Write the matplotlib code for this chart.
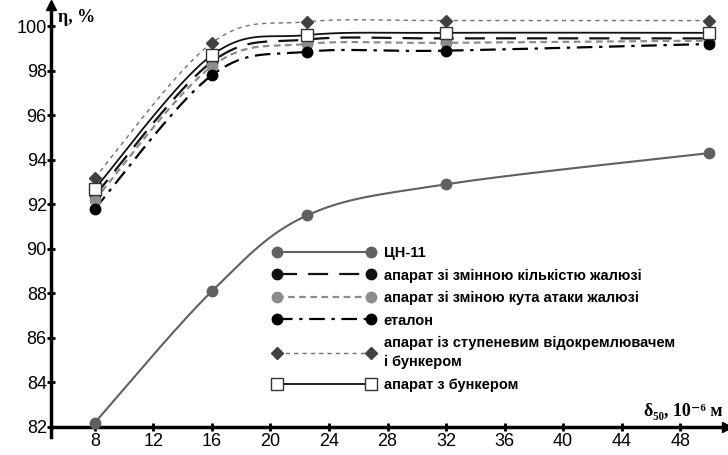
import matplotlib
matplotlib.use("Agg")
import matplotlib.pyplot as plt
import numpy as np

# particle size, 10^-6 m
x_vals = [8, 16, 22.5, 32, 50]

# efficiency, %
cn11 = [82.2, 88.1, 91.5, 92.9, 94.3]
var_count = [92.4, 98.4, 99.4, 99.45, 99.45]
var_angle = [92.2, 98.2, 99.2, 99.25, 99.35]
etalon = [91.8, 97.8, 98.85, 98.9, 99.2]
stepped = [93.2, 99.25, 100.2, 100.25, 100.25]
bunker = [92.7, 98.7, 99.6, 99.7, 99.7]

labels = [
    "ЦН-11",
    "апарат зі змінною кількістю жалюзі",
    "апарат зі зміною кута атаки жалюзі",
    "еталон",
    "апарат із ступеневим відокремлювачем\nі бункером",
    "апарат з бункером",
]

x_ticks = list(range(8, 49, 4))
y_ticks = list(range(82, 101, 2))


def smooth(x, y, n=40):
    # excel-like smoothed line (catmull-rom bezier)
    p = np.column_stack([x, y]).astype(float)
    out = []
    t = np.linspace(0, 1, n)[:, None]
    for i in range(len(p) - 1):
        p0 = p[max(i - 1, 0)]
        p1 = p[i]
        p2 = p[i + 1]
        p3 = p[min(i + 2, len(p) - 1)]
        c1 = p1 + (p2 - p0) / 6
        c2 = p2 - (p3 - p1) / 6
        seg = ((1 - t) ** 3) * p1 + 3 * ((1 - t) ** 2) * t * c1 + 3 * (1 - t) * t ** 2 * c2 + t ** 3 * p2
        out.append(seg)
    s = np.vstack(out)
    return s[:, 0], s[:, 1]


styles = [
    dict(color="#606060", ls="-", lw=1.5, marker="o", ms=7.5, mfc="#606060", mec="#606060"),
    dict(color="#111111", ls=(0, (9, 5)), lw=1.6, marker="o", ms=7.5, mfc="#111111", mec="#111111"),
    dict(color="#8c8c8c", ls=(0, (3, 2)), lw=1.6, marker="o", ms=7.5, mfc="#8c8c8c", mec="#8c8c8c"),
    dict(color="#000000", ls=(0, (7, 3, 1.5, 3)), lw=1.6, marker="o", ms=7.5, mfc="#000000", mec="#000000"),
    dict(color="#707070", ls=(0, (3, 3)), lw=1.0, marker="D", ms=6.5, mfc="#404040", mec="#404040"),
    dict(color="#111111", ls="-", lw=1.3, marker="s", ms=8, mfc="white", mec="#333333"),
]
series = [cn11, var_count, var_angle, etalon, stepped, bunker]

fig = plt.figure(figsize=(7.28, 4.55), dpi=100)
ax = fig.add_axes([51 / 728, 18 / 455, 676 / 728, 432 / 455])

handles = []
for vals, st, lab in zip(series, styles, labels):
    sx, sy = smooth(x_vals, vals)
    ax.plot(sx, sy, color=st["color"], ls=st["ls"], lw=st["lw"], zorder=2)
    ax.plot(x_vals, vals, ls="none", marker=st["marker"], ms=st["ms"],
            mfc=st["mfc"], mec=st["mec"], zorder=3)
    h, = ax.plot([], [], color=st["color"], ls=st["ls"], lw=st["lw"],
                 marker=st["marker"], ms=st["ms"], mfc=st["mfc"], mec=st["mec"])
    handles.append(h)

ax.set_xlim(5, 51.2)
ax.set_ylim(81.55, 100.95)
ax.spines["top"].set_visible(False)
ax.spines["right"].set_visible(False)
ax.spines["bottom"].set_position(("data", 82))
ax.spines["left"].set_linewidth(2.5)
ax.spines["bottom"].set_linewidth(2.5)
ax.set_xticks(x_ticks)
ax.set_yticks(y_ticks)
ax.tick_params(direction="inout", length=6, width=2, labelsize=13)
ax.tick_params(axis="y", pad=0)
ax.tick_params(axis="x", pad=1)
for lbl in ax.get_xticklabels() + ax.get_yticklabels():
    lbl.set_family("Liberation Sans")

# axis arrows
ax.plot(1, 82, ">k", ms=7, transform=ax.get_yaxis_transform(), clip_on=False)
ax.plot(5, 1, "^k", ms=7, transform=ax.get_xaxis_transform(), clip_on=False)

fig.text(58 / 728, 1 - 18 / 455, "η, %", fontsize=13, fontweight="bold",
         family=["Liberation Serif", "DejaVu Serif"], va="center", ha="left")
fig.text(722 / 728, 1 - 412 / 455, "δ₅₀, 10⁻⁶ м", fontsize=13, fontweight="bold",
         family=["Liberation Serif", "DejaVu Serif"], va="center", ha="right")

leg = ax.legend(handles, labels, loc="upper left",
                bbox_to_anchor=(273 / 728, 1 - 246 / 455), bbox_transform=fig.transFigure,
                frameon=False, numpoints=2, handlelength=7.0, handletextpad=0.6,
                labelspacing=0.58, borderpad=0, borderaxespad=0,
                prop=dict(family="Liberation Sans", weight="bold", size=10.5))
leg.get_texts()[4].set_linespacing(1.45)

fig.savefig("out.png", dpi=100)
